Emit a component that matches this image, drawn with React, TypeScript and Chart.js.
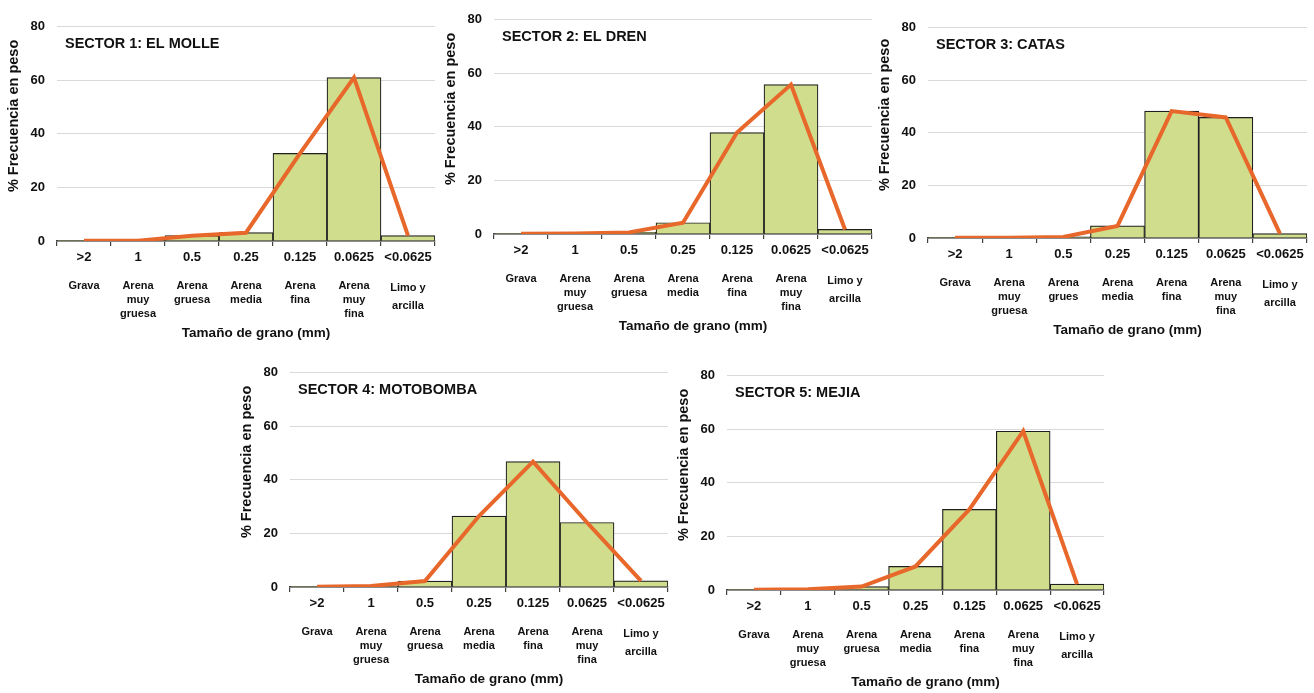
import React, { useEffect, useRef } from 'react';
import { Chart, registerables } from 'chart.js';

Chart.register(...registerables);

// ---------- data ----------
const sizeLabels = ['>2', '1', '0.5', '0.25', '0.125', '0.0625', '<0.0625'];
const grainNames = [
  ['Grava'],
  ['Arena', 'muy', 'gruesa'],
  ['Arena', 'gruesa'],
  ['Arena', 'media'],
  ['Arena', 'fina'],
  ['Arena', 'muy', 'fina'],
  ['Limo y', 'arcilla'],
];
const grainNamesCatas = [
  ['Grava'],
  ['Arena', 'muy', 'gruesa'],
  ['Arena', 'grues'],
  ['Arena', 'media'],
  ['Arena', 'fina'],
  ['Arena', 'muy', 'fina'],
  ['Limo y', 'arcilla'],
];
const sectorTitles = [
  'SECTOR 1: EL MOLLE',
  'SECTOR 2: EL DREN',
  'SECTOR 3: CATAS',
  'SECTOR 4: MOTOBOMBA',
  'SECTOR 5: MEJIA',
];
const sector1 = [0.1, 0.1, 2.0, 3.1, 32.7, 61.0, 2.0];
const sector2 = [0.1, 0.2, 0.6, 4.2, 37.9, 55.8, 1.7];
const sector3 = [0.1, 0.1, 0.4, 4.6, 48.3, 45.9, 1.7];
const sector4 = [0.1, 0.4, 2.2, 26.5, 46.8, 24.1, 2.3];
const sector5 = [0.1, 0.3, 1.3, 8.8, 30.1, 59.3, 2.2];
const yMin = 0;
const yMax = 80;
const yStep = 20;
const yTitle = '% Frecuencia en peso';
const xTitle = 'Tamaño de grano (mm)';

// ---------- layout (plot-area boxes in page pixels) ----------
const panelBoxes = [
  { L: 57, R: 435, T: 19, B: 241 },
  { L: 494, R: 872, T: 12, B: 234 },
  { L: 928, R: 1307, T: 20, B: 238 },
  { L: 290, R: 668, T: 365, B: 587 },
  { L: 727, R: 1104, T: 368, B: 590 },
];
const panelData = [
  { title: sectorTitles[0], values: sector1, names: grainNames },
  { title: sectorTitles[1], values: sector2, names: grainNames },
  { title: sectorTitles[2], values: sector3, names: grainNamesCatas },
  { title: sectorTitles[3], values: sector4, names: grainNames },
  { title: sectorTitles[4], values: sector5, names: grainNames },
];

const FONT = '"Liberation Sans", Arial, Helvetica, sans-serif';
const LEFT_W = 57;
const TOP_PAD = 12;
const RIGHT_PAD = 6;
const BOTTOM_H = 100;
const SIZE_AXIS_H = 24;

const textPlugin = {
  id: 'panelText',
  afterDraw(chart: any, _args: any, opts: any) {
    const { ctx, chartArea } = chart;
    ctx.save();
    ctx.fillStyle = '#111111';
    ctx.textBaseline = 'middle';
    // sector title
    ctx.font = `bold 14.5px ${FONT}`;
    ctx.textAlign = 'left';
    ctx.fillText(opts.title, chartArea.left + 8, chartArea.top + 17);
    // x title
    ctx.font = `bold 13.5px ${FONT}`;
    ctx.textAlign = 'center';
    ctx.fillText(opts.xTitle, (chartArea.left + chartArea.right) / 2 + 10, chartArea.bottom + 92);
    // y title
    ctx.translate(chartArea.left - 43, (chartArea.top + chartArea.bottom) / 2 - 18);
    ctx.rotate(-Math.PI / 2);
    ctx.font = `bold 14.5px ${FONT}`;
    ctx.fillText(opts.yTitle, 0, 0);
    ctx.restore();
  },
};

function Panel({ box, data }: { box: any; data: any }) {
  const ref = useRef<HTMLCanvasElement>(null);
  const width = box.R - box.L + LEFT_W + RIGHT_PAD;
  const height = box.B - box.T + TOP_PAD + BOTTOM_H;

  useEffect(() => {
    if (!ref.current) return;
    const chart = new Chart(ref.current, {
      type: 'bar',
      data: {
        labels: sizeLabels,
        datasets: [
          {
            type: 'line',
            data: data.values,
            borderColor: '#e8672b',
            borderWidth: 4,
            pointRadius: 0,
            tension: 0,
            order: 0,
            xAxisID: 'x',
            yAxisID: 'y',
          } as any,
          {
            type: 'bar',
            data: data.values,
            backgroundColor: '#cfdd8c',
            borderColor: '#1f1f1f',
            borderWidth: 1.2,
            barPercentage: 1,
            categoryPercentage: 1,
            order: 1,
            xAxisID: 'x',
            yAxisID: 'y',
          } as any,
        ],
      },
      options: {
        responsive: false,
        animation: false,
        devicePixelRatio: 1,
        layout: { padding: { top: TOP_PAD, right: RIGHT_PAD, left: 0, bottom: 0 } },
        plugins: {
          legend: { display: false },
          tooltip: { enabled: false },
          panelText: { title: data.title, xTitle, yTitle },
        } as any,
        scales: {
          x: {
            type: 'category',
            position: 'bottom',
            weight: 0,
            offset: true,
            grid: {
              offset: true,
              drawOnChartArea: false,
              drawTicks: true,
              tickLength: 5,
              color: '#404040',
              lineWidth: 1.2,
            },
            border: { display: true, color: '#404040', width: 1.5 },
            ticks: {
              color: '#111111',
              font: { family: FONT, size: 13, weight: 'bold' },
              padding: 4,
              maxRotation: 0,
              autoSkip: false,
            },
            afterFit: (s: any) => {
              s.height = SIZE_AXIS_H;
            },
          },
          x2: {
            type: 'category',
            position: 'bottom',
            weight: 1,
            labels: data.names,
            min: 0,
            max: data.names.length - 1,
            offset: true,
            grid: { display: false, drawOnChartArea: false },
            border: { display: false },
            ticks: {
              color: '#111111',
              font: (c: any) => ({
                family: FONT,
                size: 11,
                weight: 'bold',
                lineHeight: c.index === 6 ? '18px' : '14px',
              }),
              padding: 6,
              maxRotation: 0,
              autoSkip: false,
            },
            afterFit: (s: any) => {
              s.height = BOTTOM_H - SIZE_AXIS_H;
            },
          },
          y: {
            min: yMin,
            max: yMax,
            ticks: {
              stepSize: yStep,
              padding: 12,
              color: '#111111',
              font: { family: FONT, size: 13, weight: 'bold' },
            },
            grid: { color: '#d9d9d9', lineWidth: 1, drawTicks: false },
            border: { display: false },
            afterFit: (s: any) => {
              s.width = LEFT_W;
            },
          },
        } as any,
      },
      plugins: [textPlugin as any],
    });
    return () => chart.destroy();
  }, []);

  return (
    <canvas
      ref={ref}
      width={width}
      height={height}
      style={{
        position: 'absolute',
        left: box.L - LEFT_W,
        top: box.T - TOP_PAD,
        width,
        height,
      }}
    />
  );
}

export default function App() {
  return (
    <div
      style={{
        position: 'absolute',
        left: 0,
        top: 0,
        width: 1314,
        height: 693,
        background: '#ffffff',
        overflow: 'hidden',
      }}
    >
      {panelData.map((d, i) => (
        <Panel key={i} box={panelBoxes[i]} data={d} />
      ))}
    </div>
  );
}
